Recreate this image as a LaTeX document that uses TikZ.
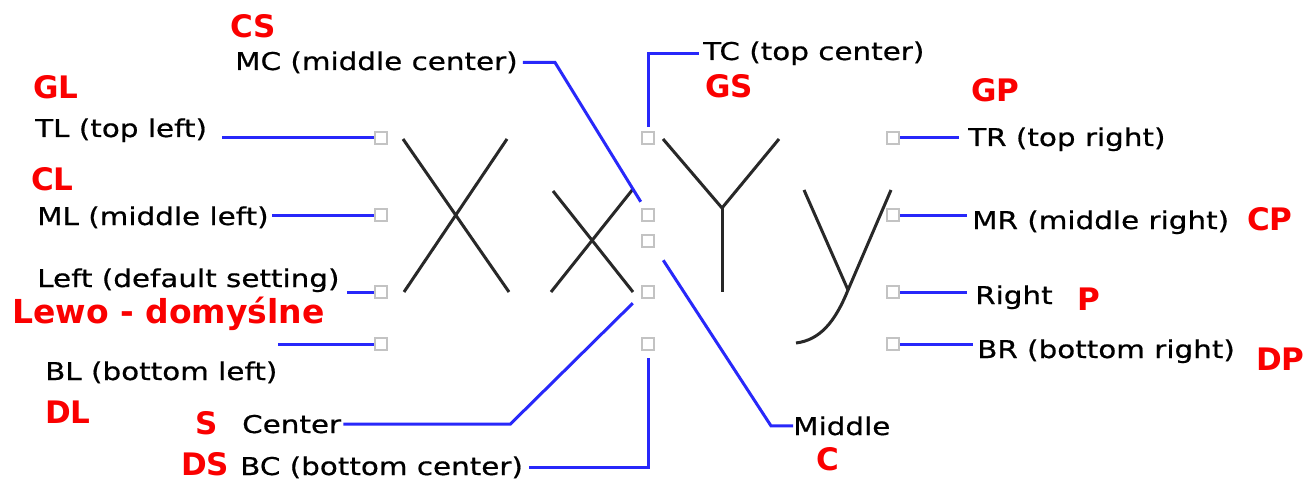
\documentclass[tikz,border=0pt]{standalone}
\usepackage{fontspec}
\setmainfont{DejaVu Sans}
\newfontfamily\uifont[FakeStretch=1.2, FakeBold=0.6]{DejaVu Sans}
\definecolor{lineblue}{RGB}{40,40,250}
\definecolor{tagred}{RGB}{250,0,0}
\definecolor{inkgray}{RGB}{40,40,40}
\definecolor{boxgray}{RGB}{195,195,195}

\begin{document}
\begin{tikzpicture}[x=1pt, y=-1pt,
    lbl/.style={anchor=base west, inner sep=0pt, font=\uifont\fontsize{24.5}{28}\selectfont},
    tag/.style={anchor=base west, inner sep=0pt, text=tagred, font=\bfseries\fontsize{31}{36}\selectfont},
    handle/.style={draw=boxgray, line width=2pt, minimum size=12.5pt, inner sep=0pt},
    lead/.style={draw=lineblue, line width=3pt},
    glyph/.style={draw=inkgray, line width=3pt}]

    \path[fill=white, use as bounding box] (0, 0) rectangle (1308, 489);

    % Handles
    \node at (381, 138) (hTL) [handle] {};
    \node at (381, 215) (hML) [handle] {};
    \node at (381, 292) (hLt) [handle] {};
    \node at (381, 344) (hBL) [handle] {};
    \node at (648, 138) (hTC) [handle] {};
    \node at (648, 215) (hMC) [handle] {};
    \node at (648, 241) (hMi) [handle] {};
    \node at (648, 292) (hCe) [handle] {};
    \node at (648, 344) (hBC) [handle] {};
    \node at (893, 138) (hTR) [handle] {};
    \node at (893, 215) (hMR) [handle] {};
    \node at (893, 292) (hRt) [handle] {};
    \node at (893, 344) (hBR) [handle] {};

    % Glyphs
    \draw[glyph] (403, 139) -- (509, 292);
    \draw[glyph] (507, 139) -- (404, 292);
    \draw[glyph] (553, 191) -- (633, 292);
    \draw[glyph] (633, 189) -- (551, 292);
    \draw[glyph] (663, 139) -- (722, 208) -- (779, 139);
    \draw[glyph] (722, 208) -- (722, 292);
    \draw[glyph] (804, 190) -- (848, 290);
    \draw[glyph] (891, 190) -- (848, 290) .. controls (835, 322) and (820, 340) .. (796, 343);

    % Labels
    \node at (35, 137) (TL) [lbl] {TL (top left)};
    \node at (37, 225) (ML) [lbl] {ML (middle left)};
    \node at (37, 287) (Lt) [lbl] {Left (default setting)};
    \node at (45, 380) (BL) [lbl] {BL (bottom left)};
    \node at (235, 70) (MC) [lbl] {MC (middle center)};
    \node at (703, 60) (TC) [lbl] {TC (top center)};
    \node at (242, 433) (Ce) [lbl] {Center};
    \node at (240, 475) (BC) [lbl] {BC (bottom center)};
    \node at (793, 435) (Mi) [lbl] {Middle};
    \node at (968, 146) (TR) [lbl] {TR (top right)};
    \node at (972, 229) (MR) [lbl] {MR (middle right)};
    \node at (975, 304) (Rt) [lbl] {Right};
    \node at (977, 358) (BR) [lbl] {BR (bottom right)};

    % Polish names
    \node at (230, 38) (CS) [tag] {CS};
    \node at (33, 99) (GL) [tag] {GL};
    \node at (31, 190) (CL) [tag] {CL};
    \node at (12, 323) (Lewo) [tag, font=\bfseries\fontsize{33}{38}\selectfont] {Lewo - domyślne};
    \node at (45, 423) (DL) [tag] {DL};
    \node at (195, 434) (S) [tag] {S};
    \node at (181, 475) (DS) [tag] {DS};
    \node at (705, 98) (GS) [tag] {GS};
    \node at (971, 102) (GP) [tag] {GP};
    \node at (1247, 230) (CP) [tag] {CP};
    \node at (1077, 310) (P) [tag] {P};
    \node at (1256, 370) (DP) [tag] {DP};
    \node at (816, 470) (C) [tag] {C};

    % Leads
    \draw[lead, shorten >=15pt] (hTL.west) -- (hTL.west -| TL.east);
    \draw[lead, shorten >=3pt] (hML.west) -- (hML.west -| ML.east);
    \draw[lead, shorten >=7pt] (hLt.west) -- (hLt.west -| Lt.east);
    \draw[lead] (hBL.west) -- (hBL.west -| BL.east);
    \draw[lead] ([xshift=5pt]MC.east) -- ++(32, 0) -- ([yshift=6pt]hMC.north west);
    \draw[lead, shorten <=4pt, shorten >=4pt] (hTC.north) |- (TC.west);
    \draw[lead] ([xshift=2pt]Ce.east) -- ++(167, 0) -- ([shift={(-8pt,-4pt)}]hCe.south west);
    \draw[lead, shorten <=7pt, shorten >=6pt] (hBC.south) |- (BC.east);
    \draw[lead] ([shift={(8pt,-12pt)}]hMi.south east) -- ([xshift=-22pt]Mi.west) -- (Mi.west);
    \draw[lead, shorten >=9pt] (hTR.east) -- (hTR.east -| TR.west);
    \draw[lead, shorten >=5pt] (hMR.east) -- (hMR.east -| MR.west);
    \draw[lead, shorten >=8pt] (hRt.east) -- (hRt.east -| Rt.west);
    \draw[lead, shorten >=4pt] (hBR.east) -- (hBR.east -| BR.west);

\end{tikzpicture}
\end{document}
